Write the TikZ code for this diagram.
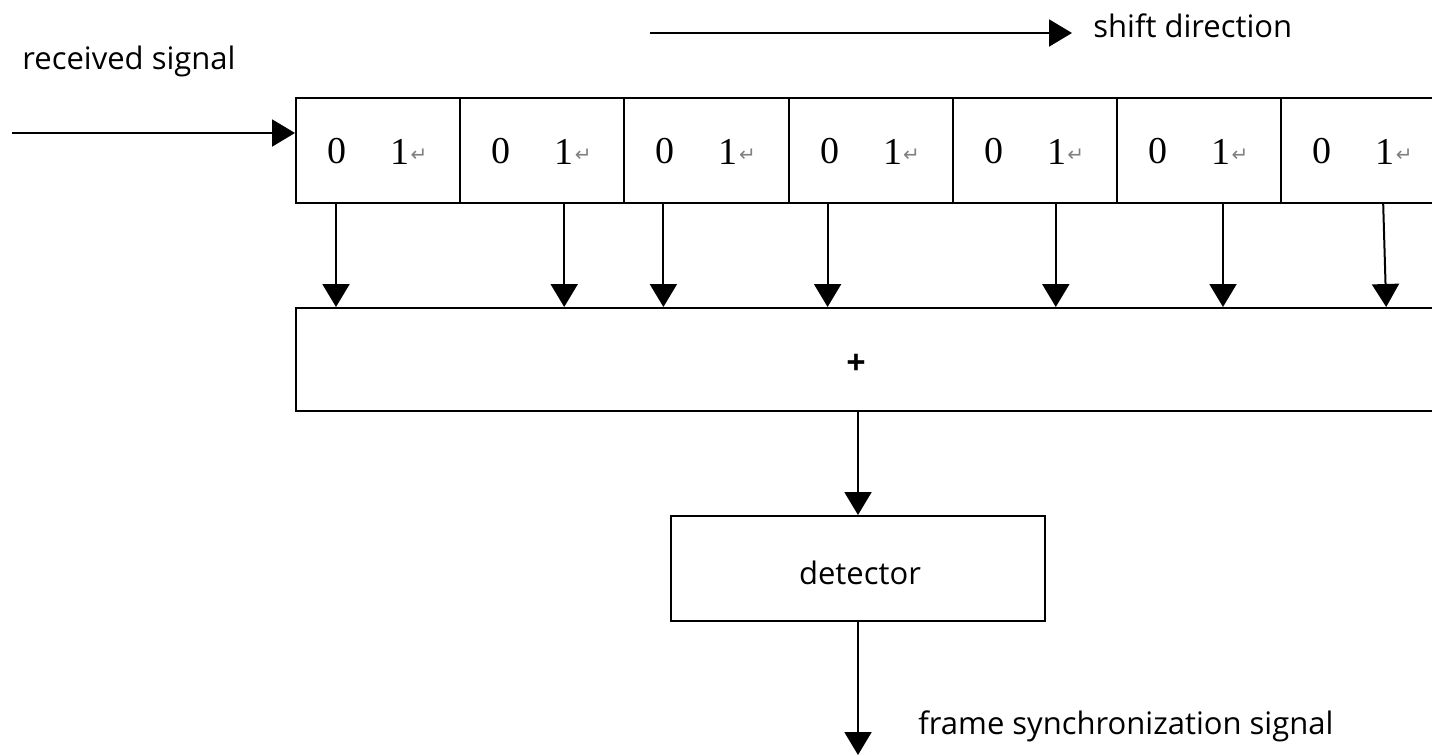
\documentclass[tikz,border=0pt]{standalone}
\usepackage{fontspec}
\setmainfont{Open Sans}
\newfontfamily\digitfont{Liberation Serif}
\newfontfamily\symfont{DejaVu Sans}
\usetikzlibrary{arrows.meta,calc}
\begin{document}
\begin{tikzpicture}[x=0.5pt,y=-0.5pt,
  box/.style={draw,line width=1pt,rectangle,inner sep=0pt},
  cellbox/.style={box,minimum width=82.1pt,minimum height=52.5pt},
  arr/.style={line width=1pt,-{Triangle[length=11.5pt,width=13.5pt]}},
  lbl/.style={font=\fontsize{15.5}{17}\selectfont,inner sep=0pt},
  dig/.style={font=\digitfont\fontsize{19}{21}\selectfont,inner sep=0pt},
  ret/.style={font=\symfont\fontsize{10}{11}\selectfont,text=gray,inner sep=0pt}]
\useasboundingbox (0,0) rectangle (1432,756);
\clip (0,0) rectangle (1432,756);
% shift register cells
\foreach \i in {1,...,7}{
  \node[cellbox] (c\i) at ({378.1+(\i-1)*164.2},150.5) {};
  \node[dig] (z\i) at ($(c\i.west)+(42,1)$) {0};
  \node[dig] (o\i) at ($(c\i.west)+(105,1)$) {1};
  \node[ret] (r\i) at ($(c\i.west)+(124,5)$) {↵};
}
% adder
\node[box,minimum width=602pt,minimum height=51.5pt] (sum) at (898,359.5) {};
\node[font=\bfseries\fontsize{17}{19}\selectfont,inner sep=0pt] (plus) at (856,364) {+};
% taps
\foreach \i/\a/\b in {1/41/41,2/105/105,3/40/40,4/40/40,5/104/104,6/107/107,7/103/106}{
  \coordinate (t\i) at ($(c\i.south west)+(\b,0)$);
  \draw[arr] ($(c\i.south west)+(\a,0)$) -- (t\i |- sum.north);
}
% detector
\node[box,minimum width=187pt,minimum height=52.5pt] (det) at (858,568.5) {};
\node[lbl] (dettext) at (860,573) {detector};
\draw[arr] (sum.south -| det.north) -- (det.north);
\coordinate (out) at (858,755);
\draw[arr] (det.south) -- (out);
\node[lbl,anchor=west] (fs) at (918,726) {frame synchronization signal};
% input
\coordinate (rin) at (12,133);
\draw[arr] (rin) -- (rin -| c1.west);
\node[lbl,anchor=west] (rs) at (22,61) {received signal};
% shift direction
\coordinate (s1) at (650,33);
\coordinate (s2) at (1072,33);
\draw[arr] (s1) -- (s2);
\node[lbl,anchor=west] (sd) at (1093,26) {shift direction};
\end{tikzpicture}
\end{document}
